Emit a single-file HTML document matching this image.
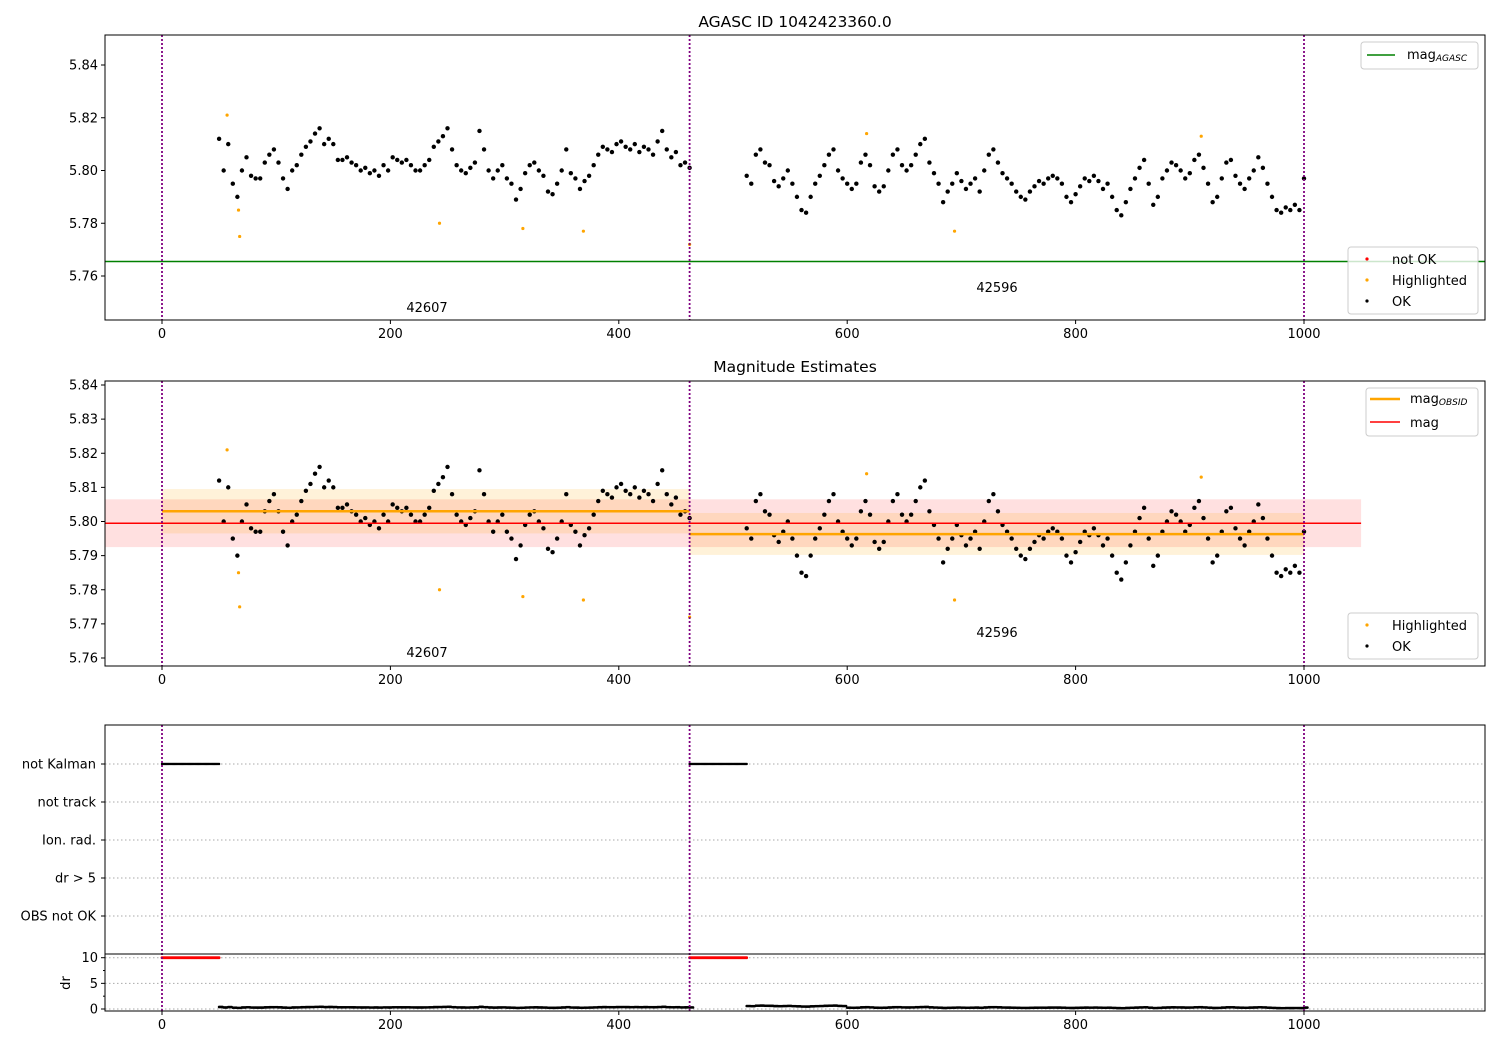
<!DOCTYPE html>
<html><head><meta charset="utf-8"><style>
body{margin:0;background:#fff;font-family:"Liberation Sans","DejaVu Sans",sans-serif}
svg text{font-family:"DejaVu Sans","Liberation Sans",sans-serif;font-size:13px;fill:#000}
svg text.title{font-size:15.5px}
svg tspan.sub{font-size:9px;font-style:italic}
</style></head><body>
<svg id="chart" width="1500" height="1050" xmlns="http://www.w3.org/2000/svg"></svg>
<script>
const seg1X0=50, seg2X0=512, stepX=4;
const seg1Mag=[5.812,5.800,5.810,5.795,5.790,5.800,5.805,5.798,5.797,5.797,5.803,5.806,5.808,5.803,5.797,5.793,5.800,5.802,5.806,5.809,5.811,5.814,5.816,5.810,5.812,5.810,5.804,5.804,5.805,5.803,5.802,5.800,5.801,5.799,5.800,5.798,5.802,5.800,5.805,5.804,5.803,5.804,5.802,5.800,5.800,5.802,5.804,5.809,5.811,5.813,5.816,5.808,5.802,5.800,5.799,5.801,5.803,5.815,5.808,5.800,5.797,5.800,5.802,5.797,5.795,5.789,5.793,5.799,5.802,5.803,5.800,5.798,5.792,5.791,5.795,5.800,5.808,5.799,5.797,5.793,5.796,5.798,5.802,5.806,5.809,5.808,5.807,5.810,5.811,5.809,5.808,5.810,5.807,5.809,5.808,5.806,5.811,5.815,5.808,5.805,5.807,5.802,5.803,5.801];
const seg2Mag=[5.798,5.795,5.806,5.808,5.803,5.802,5.796,5.794,5.797,5.800,5.795,5.790,5.785,5.784,5.790,5.795,5.798,5.802,5.806,5.808,5.800,5.797,5.795,5.793,5.795,5.803,5.806,5.802,5.794,5.792,5.794,5.800,5.806,5.808,5.802,5.800,5.802,5.806,5.810,5.812,5.803,5.799,5.795,5.788,5.792,5.795,5.799,5.796,5.793,5.795,5.797,5.792,5.800,5.806,5.808,5.803,5.799,5.797,5.795,5.792,5.790,5.789,5.792,5.794,5.796,5.795,5.797,5.798,5.797,5.795,5.790,5.788,5.791,5.794,5.797,5.796,5.798,5.796,5.793,5.795,5.790,5.785,5.783,5.788,5.793,5.797,5.801,5.804,5.795,5.787,5.790,5.797,5.800,5.803,5.802,5.800,5.797,5.799,5.804,5.806,5.801,5.795,5.788,5.790,5.797,5.803,5.804,5.798,5.795,5.793,5.797,5.800,5.805,5.801,5.795,5.790,5.785,5.784,5.786,5.785,5.787,5.785,5.797];
const hlX=[57,67,68,243,316,369,462,617,694,910];
const hlMag=[5.821,5.785,5.775,5.780,5.778,5.777,5.772,5.814,5.777,5.813];
const obsStart=[0,462], obsEnd=[462,1000], obsMag=[5.803,5.7963], obsLo=[5.7965,5.7902], obsHi=[5.8095,5.8025];
const obsIds=['42607','42596'];
const magAgasc=5.7655, magMean=5.7995, magLo=5.7925, magHi=5.8065;
const flagRows=['not Kalman','not track','Ion. rad.','dr > 5','OBS not OK'];
const drSeg1=0.3, drSeg2=0.6, drFlag=10;
const xTicks=[0,200,400,600,800,1000];
const p1Ticks=[5.76,5.78,5.80,5.82,5.84];
const p2Ticks=[5.76,5.77,5.78,5.79,5.80,5.81,5.82,5.83,5.84];
const drTicks=[0,5,10];

const svg=document.getElementById('chart');const NS='http://www.w3.org/2000/svg';
function el(t,a,p){const e=document.createElementNS(NS,t);for(const k in a)e.setAttribute(k,a[k]);(p||svg).appendChild(e);return e;}
function txt(s,x,y,a,p){const e=el('text',Object.assign({x:x,y:y},a||{}),p);e.textContent=s;return e;}
function subTxt(main,sub,x,y,p){const e=el('text',{x:x,y:y},p);const t1=el('tspan',{},e);t1.textContent=main;const t2=el('tspan',{class:'sub',dy:2},e);t2.textContent=sub;return e;}
const X0=105,X1=1485;
const sx=v=>162+v*1.142;
function mkY(top,bot,vTop,vBot){return v=>top+(vTop-v)/(vTop-vBot)*(bot-top);}
const y1=mkY(65,276,5.84,5.76), y2=mkY(385,658,5.84,5.76), y4=mkY(957.7,1009,10,0);
const P1=[35,320],P2=[381,666],P3=[725,954],P4=[954,1011];
function frame(top,bot,name){el('rect',{x:X0,y:top,width:X1-X0,height:bot-top,fill:'none',stroke:'#000','stroke-width':1});}
function xAxis(bot,g){xTicks.forEach(t=>{el('line',{x1:sx(t),x2:sx(t),y1:bot,y2:bot+4,stroke:'#000'},g);txt(t,sx(t),bot+18,{'text-anchor':'middle'},g);});}
function yAxis(ticks,fy,fmt,g){ticks.forEach(t=>{el('line',{x1:X0-4,x2:X0,y1:fy(t),y2:fy(t),stroke:'#000'},g);txt(fmt(t),X0-7,fy(t)+4.5,{'text-anchor':'end'},g);});}
function vlines(top,bot,g){[0,462,1000].forEach(v=>el('line',{x1:sx(v),x2:sx(v),y1:top,y2:bot,stroke:'#800080','stroke-width':1.8,'stroke-dasharray':'2,2'},g));}
function dots(fy,g){
  seg1Mag.forEach((m,i)=>{const c=el('circle',{cx:sx(seg1X0+i*stepX),cy:fy(m),r:2.2,fill:'#000'},g);});
  seg2Mag.forEach((m,i)=>{const c=el('circle',{cx:sx(seg2X0+i*stepX),cy:fy(m),r:2.2,fill:'#000'},g);});
  hlX.forEach((x,i)=>{const c=el('circle',{cx:sx(x),cy:fy(hlMag[i]),r:1.6,fill:'#ffa500'},g);});
}
function legendBox(x,y,w,h,g){el('rect',{x:x,y:y,width:w,height:h,rx:3,fill:'#fff','fill-opacity':0.8,stroke:'#ccc'},g);}

// Panel 1
let g1=el('g',{});
const t1=txt('AGASC ID 1042423360.0',795,27,{'text-anchor':'middle',class:'title'},g1);
dots(y1,g1);
el('line',{x1:X0,x2:X1,y1:y1(magAgasc),y2:y1(magAgasc),stroke:'#008000','stroke-width':1.5},g1);
vlines(P1[0],P1[1],g1);
txt(obsIds[0],427,312,{'text-anchor':'middle'},g1);txt(obsIds[1],997,292,{'text-anchor':'middle'},g1);
frame(P1[0],P1[1],'agasc-axes');xAxis(P1[1],g1);yAxis(p1Ticks,y1,v=>v.toFixed(2),g1);
let lg=el('g',{},g1);
legendBox(1361,42,117,27,lg);el('line',{x1:1367,x2:1395,y1:55,y2:55,stroke:'#008000','stroke-width':1.5},lg);
subTxt('mag','AGASC',1407,59,lg);
let lg2=el('g',{},g1);
legendBox(1348,247,130,67,lg2);
[['not OK','#f00',259],['Highlighted','#ffa500',280],['OK','#000',301]].forEach(r=>{el('circle',{cx:1367,cy:r[2],r:1.6,fill:r[1]},lg2);txt(r[0],1392,r[2]+5,{},lg2);});

// Panel 2
let g2=el('g',{});
txt('Magnitude Estimates',795,372,{'text-anchor':'middle',class:'title'},g2);
el('rect',{x:X0,y:y2(magHi),width:sx(1050)-X0,height:y2(magLo)-y2(magHi),fill:'#ff0000','fill-opacity':0.12},g2);
obsStart.forEach((s,i)=>{el('rect',{x:sx(s),y:y2(obsHi[i]),width:sx(obsEnd[i])-sx(s),height:y2(obsLo[i])-y2(obsHi[i]),fill:'#ffa500','fill-opacity':0.15},g2);});
dots(y2,g2);
el('line',{x1:X0,x2:sx(1050),y1:y2(magMean),y2:y2(magMean),stroke:'#f00','stroke-width':1.5},g2);
obsStart.forEach((s,i)=>{el('line',{x1:sx(s),x2:sx(obsEnd[i]),y1:y2(obsMag[i]),y2:y2(obsMag[i]),stroke:'#ffa500','stroke-width':2.5},g2);});
vlines(P2[0],P2[1],g2);
txt(obsIds[0],427,657,{'text-anchor':'middle'},g2);txt(obsIds[1],997,637,{'text-anchor':'middle'},g2);
frame(P2[0],P2[1],'estimates-axes');xAxis(P2[1],g2);yAxis(p2Ticks,y2,v=>v.toFixed(2),g2);
let lg3=el('g',{},g2);
legendBox(1366,388,112,48,lg3);
el('line',{x1:1370,x2:1400,y1:399,y2:399,stroke:'#ffa500','stroke-width':2.5},lg3);subTxt('mag','OBSID',1410,403,lg3);
el('line',{x1:1370,x2:1400,y1:422,y2:422,stroke:'#f00','stroke-width':1.5},lg3);txt('mag',1410,427,{},lg3);
let lg4=el('g',{},g2);
legendBox(1348,613,130,46,lg4);
[['Highlighted','#ffa500',625],['OK','#000',646]].forEach(r=>{el('circle',{cx:1367,cy:r[2],r:1.6,fill:r[1]},lg4);txt(r[0],1392,r[2]+5,{},lg4);});

// Panel 3 flags
let g3=el('g',{});
const rowY=i=>764+i*38;
flagRows.forEach((r,i)=>{el('line',{x1:X0,x2:X1,y1:rowY(i),y2:rowY(i),stroke:'#aaa','stroke-dasharray':'1.5,2.5'},g3);el('line',{x1:X0-4,x2:X0,y1:rowY(i),y2:rowY(i),stroke:'#000'},g3);txt(r,X0-9,rowY(i)+4.5,{'text-anchor':'end'},g3);});
[[0,50],[462,512]].forEach(s=>{for(let x=s[0];x<=s[1];x+=1)el('circle',{cx:sx(x),cy:rowY(0),r:1.2,fill:'#000'},g3);});
// Panel 4 dr
[0,5,10].forEach(t=>el('line',{x1:X0,x2:X1,y1:y4(t),y2:y4(t),stroke:'#aaa','stroke-dasharray':'1.5,2.5'},g3));
[2.5,7.5].forEach(t=>el('line',{x1:X0-2,x2:X0,y1:y4(t),y2:y4(t),stroke:'#000'},g3));
[[0,50],[462,512]].forEach(s=>{for(let x=s[0];x<=s[1];x+=1)el('circle',{cx:sx(x),cy:y4(drFlag),r:1.4,fill:'#f00'},g3);});
seg1Mag.forEach((m,i)=>{for(let k=0;k<4;k++)el('circle',{cx:sx(seg1X0+i*stepX+k),cy:y4(drSeg1+(m-5.80)*8),r:1.3,fill:'#000'},g3);});
seg2Mag.forEach((m,i)=>{const b=(seg2X0+i*stepX)<600?drSeg2:drSeg1;for(let k=0;k<4;k++)el('circle',{cx:sx(seg2X0+i*stepX+k),cy:y4(b+(m-5.80)*8),r:1.3,fill:'#000'},g3);});
vlines(P3[0],P4[1],g3);
frame(P3[0],P3[1],'flags-axes');frame(P4[0],P4[1],'dr-axes');
xAxis(P4[1],g3);yAxis(drTicks,y4,v=>v,g3);
txt('dr',70,983,{'text-anchor':'middle',transform:'rotate(-90 70 983)'},g3);
</script>
</body></html>
